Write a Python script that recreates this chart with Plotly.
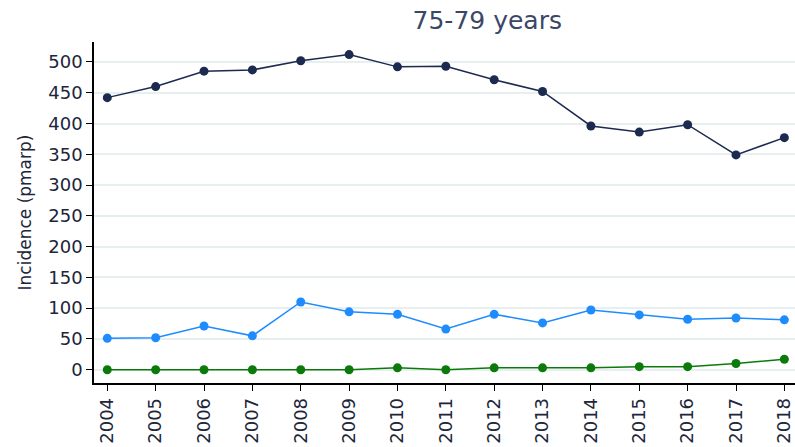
import plotly.graph_objects as go

years = list(range(2004, 2019))
total = [442, 460, 485, 487, 502, 512, 492, 493, 471, 452, 396, 386, 398, 349, 377]
blue_series = [51, 52, 71, 55, 110, 94, 90, 66, 90, 76, 97, 89, 82, 84, 81]
green_series = [0, 0, 0, 0, 0, 0, 3, 0, 3, 3, 3, 5, 5, 10, 17]
year_labels = [str(y) for y in years]
y_ticks = list(range(0, 501, 50))

fig = go.Figure()
for vals, col in [(total, "#1b2a4e"), (blue_series, "#1e8cff"), (green_series, "#0b7a0b")]:
    fig.add_trace(go.Scatter(x=years, y=vals, mode="lines+markers",
                             line=dict(color=col, width=1.5),
                             marker=dict(color=col, size=9, symbol="circle"),
                             showlegend=False))

font = "DejaVu Sans, Verdana, sans-serif"
txt = "#20253a"
fig.update_layout(
    width=795, height=447,
    margin=dict(l=94, r=0, t=42, b=64),
    paper_bgcolor="white", plot_bgcolor="white",
    title=dict(text="75-79 years", x=0.561, xanchor="center", xref="paper",
               y=1 - 20 / 447, yanchor="middle",
               font=dict(family=font, size=25, color="#3a4768")),
    font=dict(family=font, size=18, color=txt),
    xaxis=dict(range=[2003.725, 2018.22], tickvals=years, ticktext=year_labels,
               tickangle=-90, showgrid=False, zeroline=False,
               showline=True, linecolor="black", linewidth=1.5,
               ticks="outside", ticklen=6, tickcolor="black",
               tickfont=dict(family=font, size=18, color=txt)),
    yaxis=dict(range=[-21.6, 532.4], tickvals=y_ticks,
               showgrid=True, gridcolor="#e8eff1", gridwidth=1.5, zeroline=False,
               showline=True, linecolor="black", linewidth=1.5,
               ticks="outside", ticklen=6, tickcolor="black",
               title=dict(text="Incidence (pmarp)", font=dict(family=font, size=17, color=txt), standoff=12),
               tickfont=dict(family=font, size=18, color=txt)),
)
fig.write_html("out.html", config={"displayModeBar": False},
               post_script="document.body.style.margin='0';")
